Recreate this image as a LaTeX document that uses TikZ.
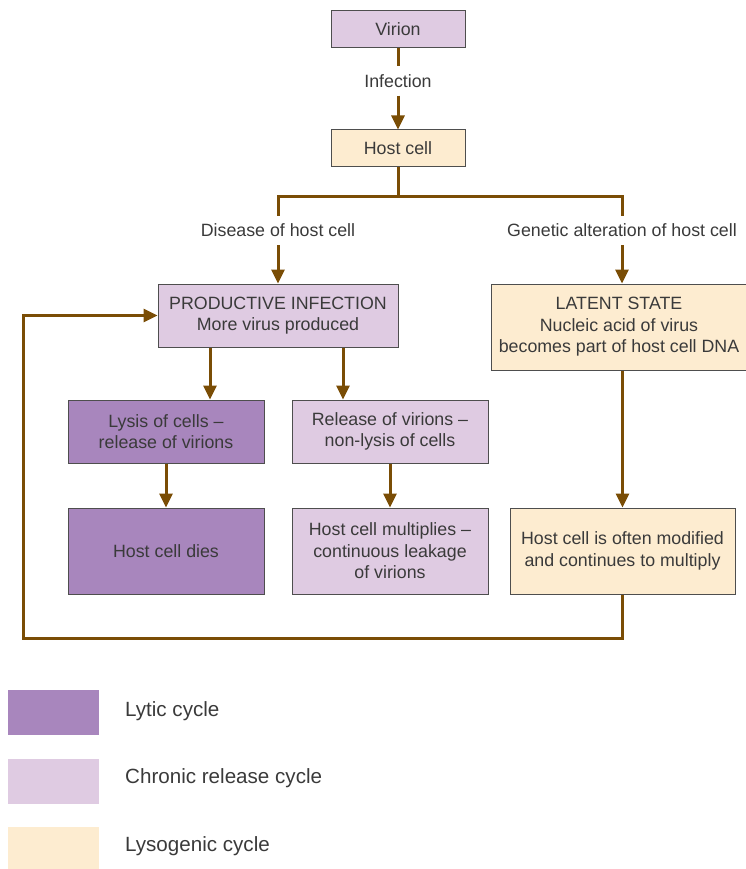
\documentclass[tikz,border=0pt]{standalone}
\usepackage{fontspec}
\setmainfont{Liberation Sans}
\usetikzlibrary{arrows.meta}
\definecolor{lytic}{HTML}{A886BD}
\definecolor{chronic}{HTML}{DFCBE2}
\definecolor{lyso}{HTML}{FDECD0}
\definecolor{brn}{HTML}{7A4D05}
\definecolor{txt}{HTML}{3A3A3A}
\tikzset{
  box/.style={draw=txt!90, line width=1pt, text=txt, align=center, inner sep=0pt, font=\fontsize{17.8}{21.5}\selectfont},
  lbl/.style={text=txt, inner sep=0pt, minimum height=29pt, font=\fontsize{17.8}{21.5}\selectfont},
  conn/.style={draw=brn, line width=3pt},
  arr/.style={conn, -{Triangle[width=13pt,length=14pt]}},
  legbox/.style={fill=#1, minimum width=91pt, minimum height=45pt, inner sep=0pt},
  legtxt/.style={text=txt, anchor=west, inner sep=0pt, font=\fontsize{20.6}{24}\selectfont}
}
\begin{document}
\begin{tikzpicture}[x=1pt,y=-1pt]
\useasboundingbox (0,0) rectangle (745,869);
% boxes
\node[box, fill=chronic, minimum width=134pt, minimum height=37pt] (virion) at (398,29.5) {Virion};
\node[box, fill=lyso, minimum width=134pt, minimum height=37pt] (host) at (398,148.5) {Host cell};
\node[box, fill=chronic, minimum width=240pt, minimum height=63pt] (prod) at (278,315.5) {PRODUCTIVE INFECTION\\More virus produced};
\node[box, fill=lyso, minimum width=255pt, minimum height=86pt] (latent) at (619,327) {LATENT STATE\\Nucleic acid of virus\\becomes part of host cell DNA};
\node[box, fill=lytic, minimum width=196pt, minimum height=63pt] (lysis) at (166,431.5) {Lysis of cells --\\release of virions};
\node[box, fill=chronic, minimum width=196pt, minimum height=63pt] (release) at (390,431.5) {Release of virions --\\non-lysis of cells};
\node[box, fill=lytic, minimum width=196pt, minimum height=86pt] (dies) at (166,551) {Host cell dies};
\node[box, fill=chronic, minimum width=196pt, minimum height=86pt] (mult) at (390,551) {Host cell multiplies --\\continuous leakage\\of virions};
\node[box, fill=lyso, minimum width=225pt, minimum height=86pt] (modif) at (622.5,551) {Host cell is often modified\\and continues to multiply};
% labels
\node[lbl] (inf) at (398,81) {Infection};
\node[lbl] (dis) at (278,230.5) {Disease of host cell};
\node[lbl] (gen) at (622,230.5) {Genetic alteration of host cell};
\coordinate (split) at (398,196);
\coordinate (fb) at (23,638);
\coordinate (xl) at (210,0);
\coordinate (xr) at (343,0);
% connectors
\draw[conn] (virion.south) -- (inf.north);
\draw[arr] (inf.south) -- (host.north);
\draw[conn] (host.south) -- (split);
\draw[conn] (split) -| (dis.north);
\draw[conn] (split) -| (gen.north);
\draw[arr] (dis.south) -- (prod.north);
\draw[arr] (gen.south) -- (gen.south |- latent.north);
\draw[arr] (prod.south -| xl) -- (lysis.north -| xl);
\draw[arr] (prod.south -| xr) -- (release.north -| xr);
\draw[arr] (lysis.south) -- (dies.north);
\draw[arr] (release.south -| mult.north) -- (mult.north);
\draw[arr] (latent.south -| modif.north) -- (modif.north);
\draw[arr] (modif.south) |- (fb) |- (prod.west);
% legend
\node[legbox=lytic] (l1) at (53.5,712.5) {};
\node[legbox=chronic] (l2) at (53.5,781.5) {};
\node[legbox=lyso] (l3) at (53.5,849.5) {};
\node[legtxt] (t1) at (125,711) {Lytic cycle};
\node[legtxt] (t2) at (125,778) {Chronic release cycle};
\node[legtxt] (t3) at (125,846) {Lysogenic cycle};
\end{tikzpicture}
\end{document}
